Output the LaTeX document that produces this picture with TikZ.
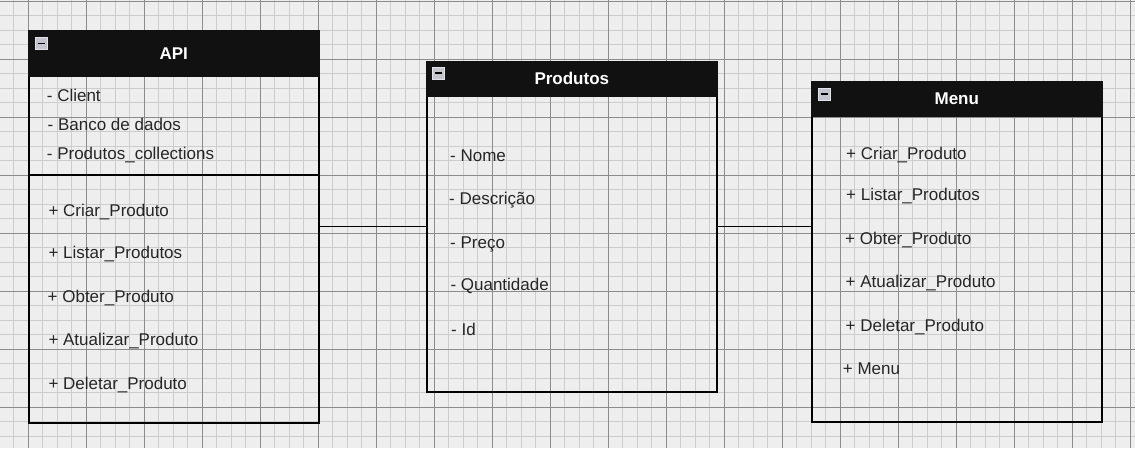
\documentclass[tikz,border=0pt]{standalone}
\usepackage{fontspec}
\setmainfont{Liberation Sans}

\definecolor{paper}{HTML}{EEEEEE}
\definecolor{gridminor}{HTML}{CDCDCD}
\definecolor{gridmajor}{HTML}{8C8C8C}
\definecolor{headblack}{HTML}{111111}
\definecolor{membergray}{HTML}{262626}
\definecolor{iconfill}{HTML}{C4C4CC}
\definecolor{iconrim}{HTML}{E2E2EA}

\tikzset{
  minorline/.style={draw=gridminor, line width=0.8pt},
  majorline/.style={draw=gridmajor, line width=0.8pt},
  classbody/.style={draw=black, line width=1.6pt, anchor=north west, inner sep=0pt},
  header/.style={fill=headblack, draw=headblack, line width=1.6pt, text=white, anchor=north west,
    inner sep=0pt, minimum width=290, font=\bfseries\fontsize{17}{20}\selectfont},
  member/.style={text=membergray, anchor=base west, inner sep=0pt, font=\fontsize{17}{20}\selectfont},
  sepline/.style={draw=black, line width=1.6pt},
  wire/.style={draw=black, line width=1.5pt},
  collapse/.style={fill=iconfill, draw=iconrim, line width=0.8pt, minimum size=11.5, inner sep=0pt,
    path picture={\draw[black, line width=1.7pt]
      ([xshift=-3.6pt]path picture bounding box.center) -- ([xshift=3.6pt]path picture bounding box.center);}}
}

\begin{document}
\begin{tikzpicture}[x=1pt,y=-1pt]
\useasboundingbox (0,0) rectangle (1135,448);
\fill[paper] (0,0) rectangle (1135,448);

% grid
\begin{scope}
\clip (0,0) rectangle (1135,448);
\foreach \k in {-1,...,76}
  \draw[minorline] ({28.3+14.5*\k},0) -- ({28.3+14.5*\k},448);
\foreach \k in {0,...,30}
  \draw[minorline] (0,{1.3+14.5*\k}) -- (1135,{1.3+14.5*\k});
\foreach \k in {0,...,19}
  \draw[majorline] ({28.3+58*\k},0) -- ({28.3+58*\k},448);
\foreach \k in {0,...,7}
  \draw[majorline] (0,{1.3+58*\k}) -- (1135,{1.3+58*\k});
\end{scope}

% class API
\node[classbody, minimum width=290, minimum height=347] (apibody) at (28,75) {};
\node[header, minimum height=45] (apihead) at (28,30) {API};
\node[collapse] (apimin) at (41.2,43.5) {};
\coordinate (apisep) at (0,175);
\draw[sepline] (apibody.west |- apisep) -- (apibody.east |- apisep);
\path (46.7,101.5) node[member] (apiattr1) {- Client};
\path (47.5,130.5) node[member] (apiattr2) {- Banco de dados};
\path (46.7,159.4) node[member] (apiattr3) {- Produtos\_collections};
\path (48.3,216.7) node[member] (apiop1) {+ Criar\_Produto};
\path (48.3,258.3) node[member] (apiop2) {+ Listar\_Produtos};
\path (47.5,302.3) node[member] (apiop3) {+ Obter\_Produto};
\path (48.3,345) node[member] (apiop4) {+ Atualizar\_Produto};
\path (48.3,389.3) node[member] (apiop5) {+ Deletar\_Produto};

% class Produtos
\node[classbody, minimum width=290, minimum height=296] (prodbody) at (426,95) {};
\node[header, minimum height=34] (prodhead) at (426,61) {Produtos};
\node[collapse] (prodmin) at (438.5,73.2) {};
\path (450,161) node[member] (prodattr1) {- Nome};
\path (449,204.5) node[member] (prodattr2) {- Descrição};
\path (450,248.3) node[member] (prodattr3) {- Preço};
\path (450.3,290.7) node[member] (prodattr4) {- Quantidade};
\path (451,335) node[member] (prodattr5) {- Id};

% class Menu
\node[classbody, minimum width=290, minimum height=306] (menubody) at (811,115) {};
\node[header, minimum height=34] (menuhead) at (811,81) {Menu};
\node[collapse] (menumin) at (824.3,94.3) {};
\path (846,159) node[member] (menuop1) {+ Criar\_Produto};
\path (846,200) node[member] (menuop2) {+ Listar\_Produtos};
\path (845,244) node[member] (menuop3) {+ Obter\_Produto};
\path (845.5,287) node[member] (menuop4) {+ Atualizar\_Produto};
\path (845.5,331) node[member] (menuop5) {+ Deletar\_Produto};
\path (842.7,374) node[member] (menuop6) {+ Menu};

% links
\coordinate (link) at (0,226.5);
\draw[wire] (apibody.east |- link) -- (prodbody.west |- link);
\draw[wire] (prodbody.east |- link) -- (menubody.west |- link);

\end{tikzpicture}
\end{document}
